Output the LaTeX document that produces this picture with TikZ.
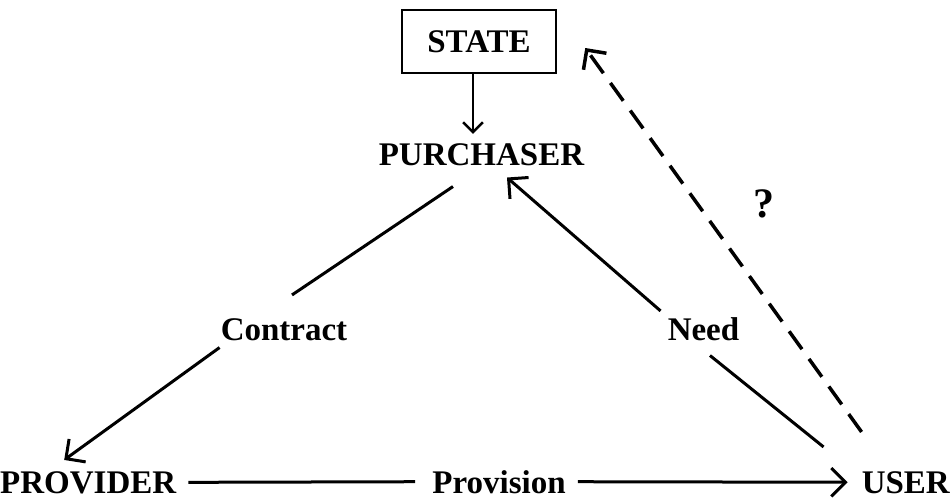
\documentclass[tikz,border=0pt]{standalone}
\usepackage{fontspec}
\setmainfont{Liberation Serif}
\usetikzlibrary{arrows.meta, positioning}

\begin{document}
\begin{tikzpicture}[x=1pt, y=-1pt,
    lbl/.style={font=\fontsize{33}{39}\selectfont\bfseries, inner sep=0pt, anchor=base},
    conn/.style={line width=3pt},
    openhead/.style={-{Straight Barb[angle=90:20pt]}}]
    % fixed page frame
    \path[use as bounding box] (0,0) rectangle (951,501);

    \node[lbl, draw, line width=2.5pt, anchor=center, minimum width=154pt, minimum height=63pt] (state) at (479,41.5) {STATE};
    \node[lbl] (purchaser) at (481.5,165) {PURCHASER};
    \node[lbl, anchor=base west] (provider) at (0,493) {PROVIDER};
    \node[lbl, anchor=base east] (user) at (950,493) {USER};
    \node[lbl] (contract) at (284,340) {Contract};
    \node[lbl] (need) at (703.5,340) {Need};
    \node[lbl] (provision) at (499,493) {Provision};
    \node[lbl, font=\fontsize{42}{48}\selectfont\bfseries] (query) at (764,217) {?};

    \draw[line width=2.5pt, -{Straight Barb[angle=90:14pt]}] ([xshift=-6pt]state.south) -- ([xshift=-8.5pt,yshift=9pt]purchaser.north);

    \draw[conn] ([xshift=-28.5pt,yshift=-21pt]purchaser.south) -- ([xshift=8pt,yshift=23pt]contract.north);
    \draw[conn, openhead] ([xshift=-1pt,yshift=-7pt]contract.south west) -- ([xshift=-24pt,yshift=11pt]provider.north);

    \draw[conn] ([xshift=12pt]provider.east) -- ([xshift=-17pt]provision.west);
    \draw[conn, openhead] ([xshift=12pt]provision.east) -- ([xshift=-14pt]user.west);

    \draw[conn] ([xshift=-38pt,yshift=24pt]user.north west) -- ([xshift=6.5pt,yshift=-15pt]need.south);
    \draw[conn, openhead] ([xshift=-7pt,yshift=6pt]need.north west) -- ([xshift=25.5pt,yshift=-12pt]purchaser.south);

    \draw[conn, line width=3.5pt, dash pattern=on 22pt off 12pt, openhead] ([yshift=39pt]user.north west) -- ([xshift=28pt,yshift=-6.5pt]state.east);
\end{tikzpicture}
\end{document}
